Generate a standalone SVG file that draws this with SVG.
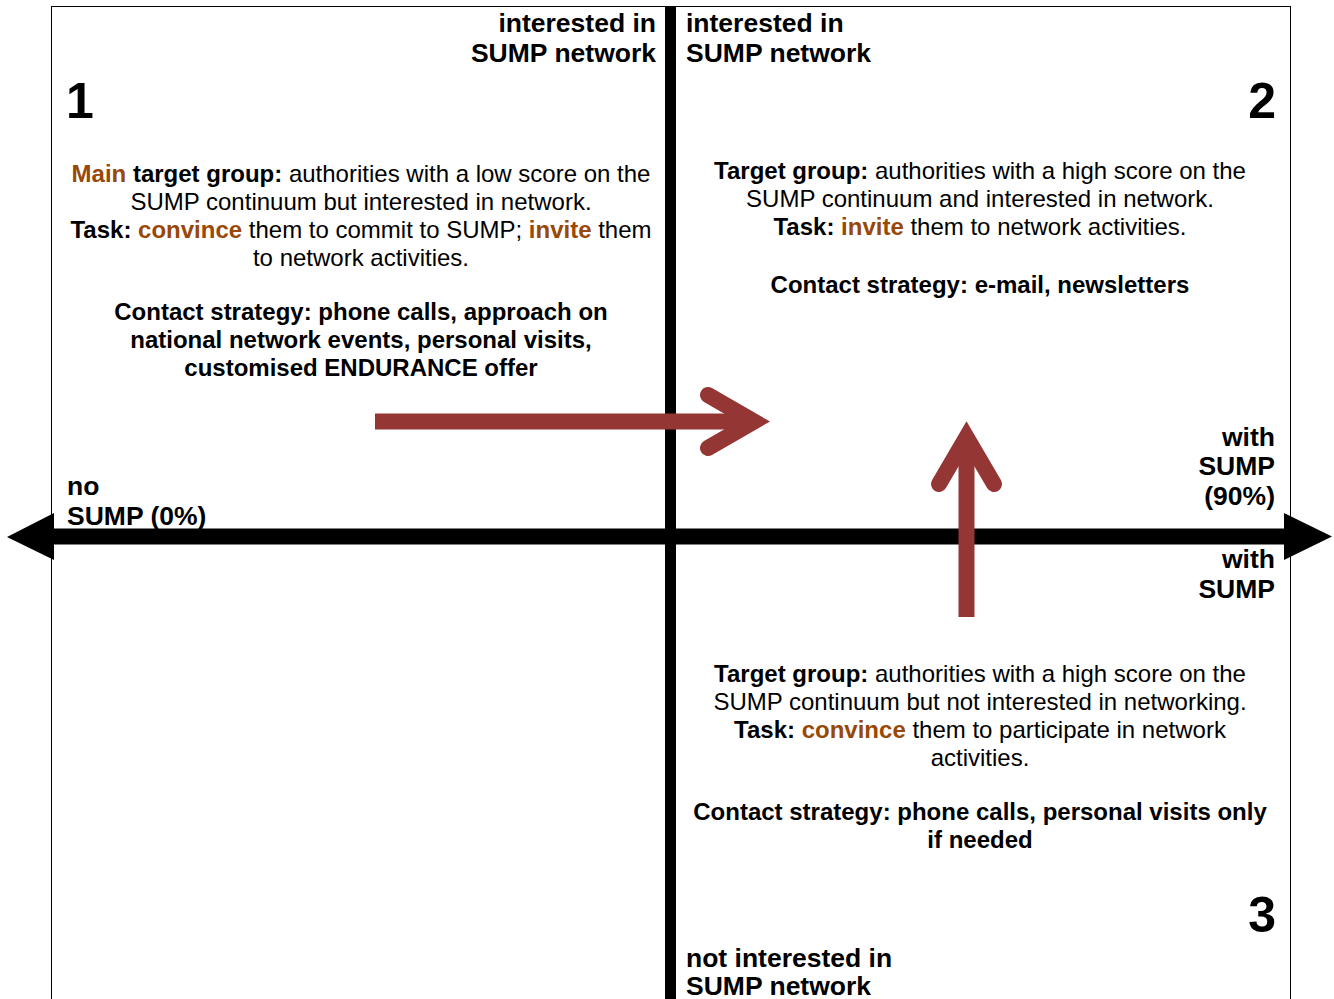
<svg xmlns="http://www.w3.org/2000/svg" width="1334" height="999" viewBox="0 0 1334 999">
<style>
text{font-family:"Liberation Sans",Arial,sans-serif;fill:#000}
.lbl{font-size:26.5px;font-weight:bold}
.num{font-size:50px;font-weight:bold}
.body{font-size:24px}
.b{font-weight:bold}
.o{fill:#984807;font-weight:bold}
.mid{text-anchor:middle}
.end{text-anchor:end}
.axis{stroke:#000;fill:none}
.red{stroke:#943634;fill:none;stroke-width:16}
</style>
<rect x="0" y="0" width="1334" height="999" fill="#fff"/>
<rect x="51.5" y="6.5" width="1239" height="1010" fill="none" stroke="#000" stroke-width="1"/>
<g id="connectors">
<line class="axis" x1="670.5" y1="6" x2="670.5" y2="999" stroke-width="11"/>
<line class="axis" x1="54" y1="536.5" x2="1284" y2="536.5" stroke-width="16"/>
<polygon points="54,513 7,537 54,560" fill="#000"/>
<polygon points="1284,513 1332,536.5 1284,560" fill="#000"/>
<line class="red" x1="375" y1="421.5" x2="754" y2="421.5"/>
<polyline class="red" points="708,395 754,421.5 708,448" stroke-linecap="round" stroke-linejoin="miter"/>
<line class="red" x1="966.5" y1="617" x2="966.5" y2="437" stroke-width="15"/>
<polyline class="red" points="939,484 966.5,437 994,484" stroke-linecap="round" stroke-linejoin="miter"/>
</g>
<g id="label-top-left">
<text class="lbl end" x="656" y="32">interested in</text>
<text class="lbl end" x="656" y="62">SUMP network</text>
</g>
<g id="label-top-right">
<text class="lbl" x="686" y="32">interested in</text>
<text class="lbl" x="686" y="62">SUMP network</text>
</g>
<g id="label-bottom">
<text class="lbl" x="686" y="967">not interested in</text>
<text class="lbl" x="686" y="995">SUMP network</text>
</g>
<g id="label-left">
<text class="lbl" x="67" y="495">no</text>
<text class="lbl" x="67" y="525">SUMP (0%)</text>
</g>
<g id="label-right-top">
<text class="lbl end" x="1275" y="446">with</text>
<text class="lbl end" x="1275" y="475">SUMP</text>
<text class="lbl end" x="1275" y="505">(90%)</text>
</g>
<g id="label-right-bottom">
<text class="lbl end" x="1275" y="568">with</text>
<text class="lbl end" x="1275" y="598">SUMP</text>
</g>
<g id="quadrant-1">
<text class="num" x="66" y="118">1</text>
<text class="body mid" x="361" y="182"><tspan class="o">Main</tspan><tspan class="b"> target group:</tspan> authorities with a low score on the</text>
<text class="body mid" x="361" y="210">SUMP continuum but interested in network.</text>
<text class="body mid" x="361" y="238"><tspan class="b">Task: </tspan><tspan class="o">convince</tspan> them to commit to SUMP; <tspan class="o">invite</tspan> them</text>
<text class="body mid" x="361" y="266">to network activities.</text>
<text class="body mid b" x="361" y="320">Contact strategy: phone calls, approach on</text>
<text class="body mid b" x="361" y="348">national network events, personal visits,</text>
<text class="body mid b" x="361" y="376">customised ENDURANCE offer</text>
</g>
<g id="quadrant-2">
<text class="num end" x="1276" y="118">2</text>
<text class="body mid" x="980" y="179"><tspan class="b">Target group:</tspan> authorities with a high score on the</text>
<text class="body mid" x="980" y="207">SUMP continuum and interested in network.</text>
<text class="body mid" x="980" y="235"><tspan class="b">Task: </tspan><tspan class="o">invite</tspan> them to network activities.</text>
<text class="body mid b" x="980" y="293">Contact strategy: e-mail, newsletters</text>
</g>
<g id="quadrant-3">
<text class="num end" x="1276" y="932">3</text>
<text class="body mid" x="980" y="682"><tspan class="b">Target group:</tspan> authorities with a high score on the</text>
<text class="body mid" x="980" y="710">SUMP continuum but not interested in networking.</text>
<text class="body mid" x="980" y="738"><tspan class="b">Task: </tspan><tspan class="o">convince</tspan> them to participate in network</text>
<text class="body mid" x="980" y="766">activities.</text>
<text class="body mid b" x="980" y="820">Contact strategy: phone calls, personal visits only</text>
<text class="body mid b" x="980" y="848">if needed</text>
</g>
</svg>
